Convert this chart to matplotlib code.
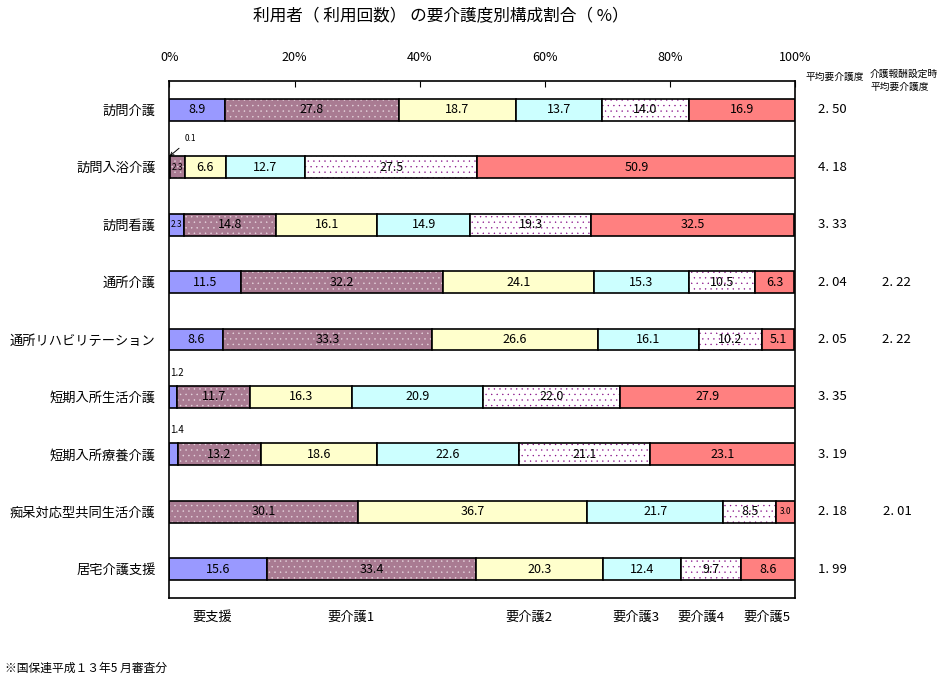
import numpy as np
import matplotlib.pyplot as plt

plt.rcParams['font.family'] = ['Noto Sans CJK JP', 'DejaVu Sans']

# サービス種別（上から順）
services = ["訪問介護", "訪問入浴介護", "訪問看護", "通所介護", "通所リハビリテーション",
            "短期入所生活介護", "短期入所療養介護", "痴呆対応型共同生活介護", "居宅介護支援"]
levels = ["要支援", "要介護1", "要介護2", "要介護3", "要介護4", "要介護5"]

# 構成割合(%)  各サービス x 要介護度
shien = [8.9, 0.1, 2.3, 11.5, 8.6, 1.2, 1.4, 0.0, 15.6]
kaigo1 = [27.8, 2.3, 14.8, 32.2, 33.3, 11.7, 13.2, 30.1, 33.4]
kaigo2 = [18.7, 6.6, 16.1, 24.1, 26.6, 16.3, 18.6, 36.7, 20.3]
kaigo3 = [13.7, 12.7, 14.9, 15.3, 16.1, 20.9, 22.6, 21.7, 12.4]
kaigo4 = [14.0, 27.5, 19.3, 10.5, 10.2, 22.0, 21.1, 8.5, 9.7]
kaigo5 = [16.9, 50.9, 32.5, 6.3, 5.1, 27.9, 23.1, 3.0, 8.6]

avg_level = ["2.50", "4.18", "3.33", "2.04", "2.05", "3.35", "3.19", "2.18", "1.99"]
avg_level_fee = ["", "", "", "2.22", "2.22", "", "", "2.01", ""]

# 凡例ラベルの横位置(%)
legend_x = [6.8, 29, 57.5, 74.5, 85, 95.5]

data = np.array([shien, kaigo1, kaigo2, kaigo3, kaigo4, kaigo5])
styles = [
    dict(color="#9999FF"),
    dict(color="#A97B92", hatch="...", hcolor="#E8D8E0", hlw=0.3),
    dict(color="#FFFFCC"),
    dict(color="#CCFFFF"),
    dict(color="white", hatch="...", hcolor="#800080", hlw=0.2),
    dict(color="#FF8080"),
]

fig = plt.figure(figsize=(9.49, 6.82), dpi=100)
ax = fig.add_axes([0.1786, 0.1232, 0.6591, 0.758])

y = np.arange(len(services))
left = np.zeros(len(services))
h = 0.38
for k in range(len(levels)):
    vals = data[k]
    st = styles[k]
    if "hatch" in st:
        with plt.rc_context({"hatch.linewidth": st["hlw"]}):
            ax.barh(y, vals, left=left, height=h, color=st["color"], edgecolor=st["hcolor"],
                    hatch=st["hatch"], linewidth=0)
    else:
        ax.barh(y, vals, left=left, height=h, color=st["color"], linewidth=0)
    ax.barh(y, vals, left=left, height=h, facecolor="none", edgecolor="black", linewidth=1.2)
    for i, v in enumerate(vals):
        cx = left[i] + v / 2
        if v >= 4:
            ax.text(cx, y[i], f"{v:.1f}", ha="center", va="center", fontsize=9)
        elif v >= 2:
            ax.text(cx, y[i], f"{v:.1f}", ha="center", va="center", fontsize=6)
        elif v >= 1:
            ax.text(left[i] + 0.1, y[i] - 0.42, f"{v:.1f}", ha="left", va="center", fontsize=7)
        elif v > 0:
            ax.annotate(f"{v:.1f}", xy=(left[i], y[i] - h / 2), xytext=(3.4, y[i] - 0.5),
                        fontsize=6, ha="center", va="center",
                        arrowprops=dict(arrowstyle="->", color="black", lw=0.7,
                                        shrinkA=3, shrinkB=0))
    left += vals

ax.set_xlim(0, 100)
ax.set_ylim(len(services) - 0.5, -0.5)
ax.set_yticks(y)
ax.set_yticklabels(services, fontsize=9.5)
ax.tick_params(axis="y", length=0, pad=10)
ax.set_xticks(np.arange(0, 101, 20))
ax.set_xticklabels([f"{t}%" for t in range(0, 101, 20)], fontsize=9)
ax.xaxis.tick_top()
ax.tick_params(axis="x", direction="in", length=4, pad=12)
for s in ax.spines.values():
    s.set_linewidth(1.2)

# 平均要介護度
ytr = ax.get_yaxis_transform()
ax.text(1.063, -0.57, "平均要介護度", transform=ytr, fontsize=7, ha="center", va="center")
ax.text(1.12, -0.62, "介護報酬設定時", transform=ytr, fontsize=7, ha="left", va="center")
ax.text(1.12, -0.4, "平均要介護度", transform=ytr, fontsize=7, ha="left", va="center")
for i in range(len(services)):
    ax.text(1.06, y[i], avg_level[i].replace(".", ". "), transform=ytr,
            fontsize=9.5, ha="center", va="center")
    if avg_level_fee[i]:
        ax.text(1.163, y[i], avg_level_fee[i].replace(".", ". "), transform=ytr,
                fontsize=9.5, ha="center", va="center")

for lx, lab in zip(legend_x, levels):
    ax.text(lx, 8.83, lab, fontsize=9.5, ha="center", va="center")

fig.text(0.465, 0.975, "利用者（ 利用回数） の要介護度別構成割合（ %）", fontsize=12,
         ha="center", va="center")
fig.text(0.005, 0.02, "※国保連平成１３年5 月審査分", fontsize=8.5, ha="left", va="center")

fig.savefig("out.png", dpi=100)
